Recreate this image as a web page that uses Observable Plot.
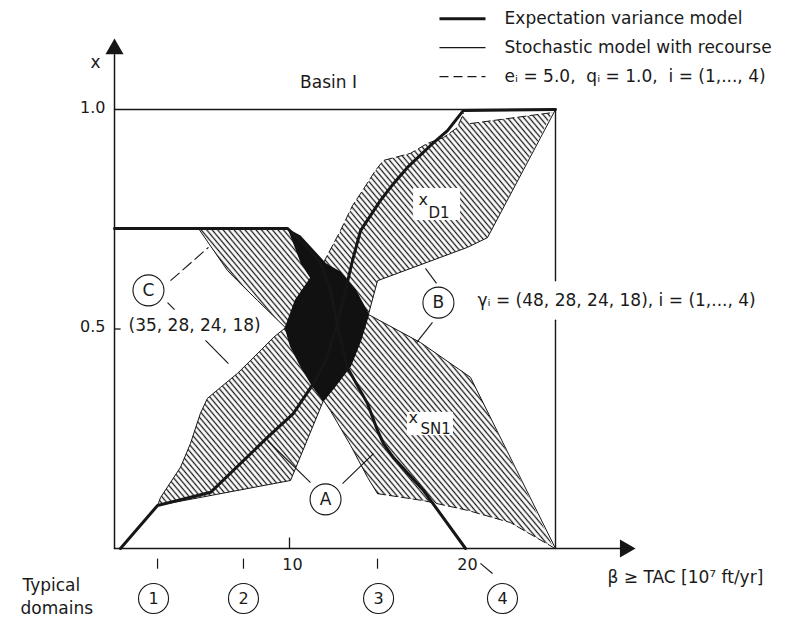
<!DOCTYPE html>
<html>
<head>
<meta charset="utf-8">
<script src="https://cdn.jsdelivr.net/npm/d3@7"></script>
<script src="https://cdn.jsdelivr.net/npm/@observablehq/plot@0.6"></script>
<style>
  html, body { margin: 0; padding: 0; background: #fff; }
  svg { display: block; }
</style>
</head>
<body>
<div id="chart"></div>
<script>
// ---------------- data (x = TAC in 10^7 ft/yr, y = fraction x) ----------------
// Expectation variance model, x_D1 (rising)
const dExpVar = [[0.34,0],[2.46,0.098],[5.49,0.128],[8.74,0.253],[10.23,0.308],[11.37,0.376],[12.06,0.428],[12.63,0.497],[13.2,0.588],[13.6,0.656],[14.06,0.724],[15.2,0.793],[15.94,0.831],[16.74,0.868],[18.06,0.918],[19.03,0.952],[19.94,0.998],[25.2,1.0]];
// Expectation variance model, x_SN1 (falling)
const snExpVar = [[0,0.729],[9.89,0.729],[10.91,0.690],[11.77,0.651],[12.34,0.588],[12.8,0.497],[13.31,0.412],[14.46,0.330],[15.03,0.269],[15.37,0.239],[15.94,0.207],[17.66,0.132],[20.06,0]];

// hatched ranges (gamma variations)
const hatchDLow = [[2.46,0.098],[2.63,0.116],[3.77,0.185],[4.34,0.239],[4.91,0.308],[5.31,0.342],[6.06,0.367],[7.03,0.399],[7.94,0.435],[9.09,0.481],[9.77,0.503],[11.94,0.337],[10.06,0.155]];
const hatchDUp = [[11.94,0.651],[12.91,0.724],[13.6,0.781],[14.17,0.815],[14.91,0.861],[15.37,0.884],[16.91,0.900],[17.89,0.923],[18.8,0.936],[19.6,0.959],[19.94,0.991],[20.34,0.968],[25.03,0.993],[21.31,0.708],[20.17,0.686],[15.03,0.610],[14.51,0.533]];
const hatchSNUp = [[4.8,0.729],[9.89,0.729],[11.94,0.651],[9.77,0.503],[8.17,0.565],[7.03,0.610],[6.46,0.633]];
const hatchSNLow = [[11.94,0.337],[12.34,0.314],[13.49,0.235],[14.46,0.162],[15.03,0.125],[17.66,0.109],[20.17,0.087],[22.63,0.059],[25.09,0.002],[20.34,0.390],[17.49,0.469],[14.51,0.533]];

// overlap core (black)
const coreOverlap = [[11.94,0.651],[12.91,0.629],[13.77,0.588],[14.51,0.533],[14.06,0.474],[13.49,0.417],[12.63,0.371],[11.94,0.337],[11.31,0.371],[10.63,0.417],[10.06,0.462],[9.77,0.503],[10.34,0.565],[11.2,0.615]];
const coreWedge = [[9.89,0.729],[10.63,0.713],[12.06,0.651],[11.2,0.615],[10.63,0.651]];

// solid boundaries (stochastic model with recourse)
const edgeDLowUpper = [[2.46,0.098],[2.63,0.116],[3.77,0.185],[4.34,0.239],[4.91,0.308],[5.31,0.342],[6.06,0.367],[7.03,0.399],[7.94,0.435],[9.09,0.481],[9.77,0.503]];
const edgeDLowLower = [[2.46,0.098],[10.06,0.155],[11.94,0.337]];
const edgeDUpRight = [[25.2,1.0],[21.31,0.708],[20.17,0.686],[15.03,0.610],[14.51,0.533]];
const edgeSNUpLeft = [[4.8,0.729],[6.46,0.633],[7.03,0.610],[8.17,0.565],[9.77,0.503]];
const edgeSNLowLeft = [[11.94,0.337],[12.34,0.314],[13.49,0.235],[14.46,0.162],[15.03,0.125]];
const edgeSNLowRight = [[14.51,0.533],[17.49,0.469],[20.34,0.390],[25.2,0]];
// dashed boundaries (e_i = 5.0, q_i = 1.0)
const dashDUpLeft = [[11.94,0.651],[12.91,0.724],[13.6,0.781],[14.17,0.815],[14.91,0.861],[15.37,0.884],[16.91,0.900],[17.89,0.923],[18.8,0.936],[19.6,0.959],[19.94,0.991]];
const dashDUpTop = [[20.34,0.968],[25.03,0.993]];
const dashSNLow = [[15.03,0.125],[17.66,0.109],[20.17,0.087],[22.63,0.059],[25.09,0.002]];

// frame / axes
const frameLines = [
  [[0,1],[25.2,1]],
  [[25.2,1],[25.2,0.61]],
  [[25.2,0.52],[25.2,0]]
];
const axisLines = [
  [[0,0],[28.9,0]],
  [[0,0],[0,1.125]]
];
const yTicks = [{v:1.0, t:"1.0"}, {v:0.5, t:"0.5"}];
const xTicks = [{v:10, t:"10"}, {v:20, t:"20"}];
const domainMarkers = [2.46, 7.37, 15.03];
const domainIds = [{id:"1", at:2.23}, {id:"2", at:7.37}, {id:"3", at:15.09}, {id:"4", at:22.17}];

// pointers and circled letters
const pointers = [
  {x1:11.2, y1:0.150, x2:8.74, y2:0.246},
  {x1:13.03, y1:0.148, x2:14.8, y2:0.216},
  {x1:18.4, y1:0.604, x2:17.77, y2:0.638},
  {x1:18.17, y1:0.515, x2:17.26, y2:0.469},
  {x1:3.03, y1:0.560, x2:3.43, y2:0.544},
  {x1:5.2, y1:0.474, x2:6.51, y2:0.421},
  {x1:20.91, y1:-0.034, x2:21.6, y2:-0.057}
];
const dashedPointers = [{x1:3.2, y1:0.610, x2:5.37, y2:0.686}];
const circled = [{t:"A", x:12.06, y:0.112}, {t:"B", x:18.51, y:0.560}, {t:"C", x:1.94, y:0.588}];

const labelBoxes = [{x1:17.09, x2:19.77, y1:0.747, y2:0.820}, {x1:16.74, x2:19.37, y1:0.257, y2:0.310}];
const curveNames = [{t:"x", x:17.37, y:0.795}, {t:"x", x:16.8, y:0.298}];
const curveSubs = [{t:"D1", x:17.94, y:0.763}, {t:"SN1", x:17.49, y:0.271}];

const notesCentered = [
  {t:"Basin I", x:12.23, y:1.061},
  {t:"x", x:-1.09, y:1.107}
];
const notesLeft = [
  {t:"γᵢ = (48, 28, 24, 18), i = (1,..., 4)", x:20.74, y:0.565},
  {t:"(35, 28, 24, 18)", x:0.8, y:0.508},
  {t:"β ≥ TAC [10⁷ ft/yr]", x:28.17, y:-0.066},
  {t:"Typical", x:-5.26, y:-0.084},
  {t:"domains", x:-5.37, y:-0.137}
];

const legendLabels = ["Expectation variance model", "Stochastic model with recourse", "eᵢ = 5.0,  qᵢ = 1.0,  i = (1,..., 4)"];
const legendRowY = i => 1.207 - i * 0.066;

const arrowHeads = [{x:0, y:1.138, rot:0}, {x:29.18, y:0, rot:90}];

// ---------------- chart ----------------
const P = d => d[0], Q = d => d[1];
const ink = "#161616";
const poly = (data, fill) => Plot.line(data, {x: P, y: Q, curve: "linear-closed", fill, stroke: "none"});
const path = (data, opts = {}) => Plot.line(data, {x: P, y: Q, stroke: ink, strokeWidth: 1, ...opts});

const chart = Plot.plot({
  width: 800, height: 618,
  marginLeft: 114, marginRight: 245, marginTop: 109, marginBottom: 70,
  x: {domain: [0, 25.2], axis: null},
  y: {domain: [0, 1], axis: null},
  style: {fontFamily: "'DejaVu Sans', sans-serif", fontSize: "17px", color: "#1a1a1a", background: "#fff", overflow: "visible"},
  marks: [
    poly(hatchDLow, "url(#hatch)"),
    poly(hatchDUp, "url(#hatch)"),
    poly(hatchSNUp, "url(#hatch)"),
    poly(hatchSNLow, "url(#hatch)"),
    Plot.line(coreOverlap, {x: P, y: Q, curve: "linear-closed", fill: "#111", stroke: "#111", strokeWidth: 1.5}),
    Plot.line(coreWedge, {x: P, y: Q, curve: "linear-closed", fill: "#111", stroke: "none"}),
    path(edgeDLowUpper), path(edgeDLowLower), path(edgeDUpRight),
    path(edgeSNUpLeft), path(edgeSNLowLeft), path(edgeSNLowRight),
    path(dashDUpLeft, {strokeDasharray: "8,4"}),
    path(dashDUpTop, {strokeDasharray: "8,4"}),
    path(dashSNLow, {strokeDasharray: "8,4"}),
    ...frameLines.map(l => path(l, {strokeWidth: 1.4})),
    ...axisLines.map(l => path(l, {strokeWidth: 1.5})),
    path(dExpVar, {strokeWidth: 3, strokeLinejoin: "round"}),
    path(snExpVar, {strokeWidth: 3, strokeLinejoin: "round"}),
    // axis ticks
    Plot.link(yTicks.filter(d => d.v < 1), {x1: () => 0, x2: () => 0.35, y1: "v", y2: "v", stroke: ink, strokeWidth: 1.3}),
    Plot.link(xTicks.filter(d => d.v === 10), {x1: "v", x2: "v", y1: () => 0, y2: () => 0.025, stroke: ink, strokeWidth: 1.3}),
    Plot.text(yTicks, {x: () => 0, y: "v", text: "t", dx: -9, dy: -2, textAnchor: "end", fontSize: 16}),
    Plot.text(xTicks, {x: "v", y: () => 0, text: "t", dx: 3, dy: 16, textAnchor: "middle", fontSize: 16}),
    Plot.link(domainMarkers, {x1: d => d, x2: d => d, y1: () => -0.023, y2: () => -0.046, stroke: ink, strokeWidth: 1.2}),
    Plot.dot(domainIds, {x: "at", y: () => -0.114, r: 15, fill: "#fff", stroke: ink, strokeWidth: 1.1}),
    Plot.text(domainIds, {x: "at", y: () => -0.114, text: "id", fontSize: 16}),
    // arrows
    Plot.dot(arrowHeads, {x: "x", y: "y", rotate: "rot", symbol: "triangle", r: 6.7, fill: ink, stroke: "none"}),
    // pointers
    Plot.link(pointers, {x1: "x1", y1: "y1", x2: "x2", y2: "y2", stroke: ink, strokeWidth: 1.1}),
    Plot.link(dashedPointers, {x1: "x1", y1: "y1", x2: "x2", y2: "y2", stroke: ink, strokeWidth: 1.1, strokeDasharray: "12,4"}),
    Plot.dot(circled, {x: "x", y: "y", r: 15.5, fill: "#fff", stroke: ink, strokeWidth: 1.1}),
    Plot.text(circled, {x: "x", y: "y", text: "t", fontSize: 17}),
    // curve labels
    Plot.rect(labelBoxes, {x1: "x1", x2: "x2", y1: "y1", y2: "y2", fill: "#fff"}),
    Plot.text(curveNames, {x: "x", y: "y", text: "t", textAnchor: "start", fontSize: 16}),
    Plot.text(curveSubs, {x: "x", y: "y", text: "t", textAnchor: "start", fontSize: 15}),
    // notes
    Plot.text(notesCentered, {x: "x", y: "y", text: "t", textAnchor: "middle", fontSize: 17}),
    Plot.text(notesLeft, {x: "x", y: "y", text: "t", textAnchor: "start", fontSize: 17}),
    // legend
    Plot.link([legendLabels[0]], {x1: () => 18.57, x2: () => 21.2, y1: () => legendRowY(0), y2: () => legendRowY(0), stroke: ink, strokeWidth: 3}),
    Plot.link([legendLabels[1]], {x1: () => 18.57, x2: () => 21.2, y1: () => legendRowY(1), y2: () => legendRowY(1), stroke: ink, strokeWidth: 1.2}),
    Plot.link([legendLabels[2]], {x1: () => 18.57, x2: () => 21.2, y1: () => legendRowY(2), y2: () => legendRowY(2), stroke: ink, strokeWidth: 1.2, strokeDasharray: "9,5"}),
    Plot.text(legendLabels, {x: () => 22.29, y: (d, i) => legendRowY(i), text: d => d, textAnchor: "start", fontSize: 17})
  ]
});

// hatch pattern
const defs = d3.select(chart).insert("defs", ":first-child");
const pat = defs.append("pattern")
  .attr("id", "hatch")
  .attr("patternUnits", "userSpaceOnUse")
  .attr("width", 4.2).attr("height", 4.2)
  .attr("patternTransform", "rotate(-40)");
pat.append("rect").attr("width", 4.2).attr("height", 4.2).attr("fill", "#fff");
pat.append("line").attr("x1", 2.1).attr("y1", -1).attr("x2", 2.1).attr("y2", 5.2)
  .attr("stroke", "#1a1a1a").attr("stroke-width", 1.3);

document.getElementById("chart").appendChild(chart);
</script>
</body>
</html>
